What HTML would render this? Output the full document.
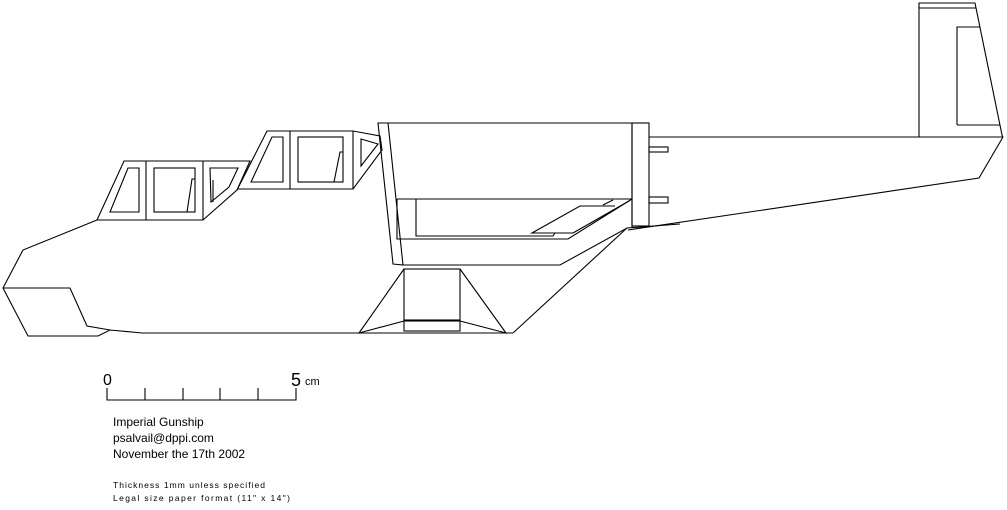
<!DOCTYPE html>
<html><head><meta charset="utf-8"><style>
html,body{margin:0;padding:0;background:#fff;}
svg{display:block;}
text{font-family:"Liberation Sans",Arial,sans-serif;fill:#000;}
</style></head><body>
<svg width="1007" height="510" viewBox="0 0 1007 510" xmlns="http://www.w3.org/2000/svg">
<g fill="none" stroke="#000" stroke-width="1.1" stroke-linejoin="miter">
<polyline points="97,220 23,250 3,288 28,336 98,336 110,330 142,333 513,333"/>
<polyline points="3,288 70,288 87,326 110,330"/>
<polygon points="97,220 124,161 250,161 237,190 203,220"/>
<line x1="146" y1="161" x2="146" y2="220"/>
<line x1="203" y1="161" x2="203" y2="220"/>
<polygon points="110,212 128,168 139,168 139,212"/>
<rect x="154" y="168" width="41" height="44"/>
<polyline points="187,212 192,179 195,179"/>
<polygon points="210,168 238,168 229,187 211,202"/>
<line x1="213" y1="180" x2="213" y2="202"/>
<polyline points="237,190 267,131 353,131 380,136 382,150 353,189 237,189"/>
<line x1="290" y1="131" x2="290" y2="189"/>
<line x1="353" y1="131" x2="353" y2="189"/>
<polygon points="251,182 272,137 283,137 283,182"/>
<rect x="298" y="137" width="45" height="45"/>
<polyline points="334,182 340,152 343,152"/>
<polygon points="361,139 378,144 361,166"/>
<polygon points="378,123 388,123 403,265 393,264"/>
<polyline points="388,123 632,123 632,227"/>
<rect x="632" y="123" width="17" height="103"/>
<rect x="649" y="147" width="19" height="5"/>
<rect x="649" y="197" width="19" height="6"/>
<line x1="397" y1="199" x2="632" y2="199"/>
<polyline points="397,199 397,239 568,239 632,199"/>
<polyline points="416,199 416,236 553,236 555,233"/>
<polyline points="573,233 532,233 580,206 615,206"/>
<line x1="603" y1="205" x2="613" y2="200"/>
<line x1="629" y1="201" x2="573" y2="233"/>
<polyline points="403,265 560,265 627,228 680,224"/>
<line x1="627" y1="228" x2="513" y2="333"/>
<rect x="404" y="269" width="56" height="51"/>
<rect x="404" y="321" width="56" height="10"/>
<polyline points="404,269 359,333 404,321"/>
<polyline points="460,269 506,333 460,321"/>
<line x1="359" y1="333" x2="513" y2="333"/>
<line x1="649" y1="137" x2="1003" y2="137"/>
<polyline points="1003,137 979,178 628,230"/>
<polyline points="919,137 919,3 975,3 1002,135 1003,137"/>
<line x1="919" y1="8" x2="976" y2="8"/>
<polyline points="957,125 957,27 980,27"/>
<line x1="957" y1="125" x2="1000" y2="125"/>
<polyline points="107,388 107,400 296,400 296,388"/>
<line x1="145" y1="388" x2="145" y2="400"/>
<line x1="183" y1="388" x2="183" y2="400"/>
<line x1="220" y1="388" x2="220" y2="400"/>
<line x1="258" y1="388" x2="258" y2="400"/>
</g>
<text x="103" y="385" font-size="16">0</text>
<text x="291" y="386" font-size="18">5</text>
<text x="305" y="385" font-size="11">cm</text>
<text x="113" y="426" font-size="12">Imperial Gunship</text>
<text x="113" y="442" font-size="12">psalvail@dppi.com</text>
<text x="113" y="458" font-size="12">November the 17th 2002</text>
<text x="113" y="488" font-size="8.5" textLength="152" lengthAdjust="spacing">Thickness 1mm unless specified</text>
<text x="113" y="501" font-size="8.5" textLength="177" lengthAdjust="spacing">Legal size paper format (11" x 14")</text>
</svg>
</body></html>
